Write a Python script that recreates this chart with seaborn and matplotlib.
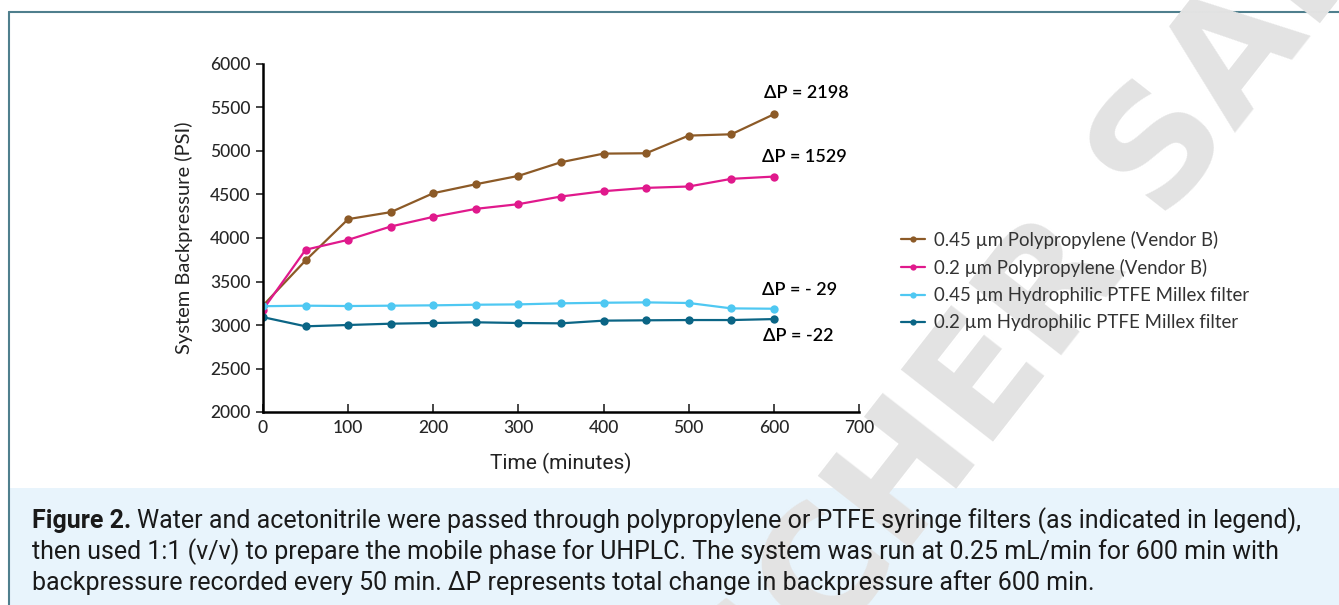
import numpy as np
import pandas as pd
import seaborn as sns
from matplotlib import pyplot as plt
from matplotlib.patches import Rectangle
from matplotlib.lines import Line2D

# data (backpressure in PSI, every 50 min)
times = [0, 50, 100, 150, 200, 250, 300, 350, 400, 450, 500, 550, 600]
pp045 = [3224, 3742, 4217, 4297, 4515, 4618, 4714, 4871, 4970, 4974, 5177, 5192, 5422]
pp02 = [3177, 3865, 3979, 4132, 4243, 4335, 4389, 4477, 4538, 4576, 4592, 4680, 4706]
ptfe045 = [3216, 3222, 3218, 3222, 3226, 3233, 3237, 3249, 3256, 3260, 3253, 3191, 3187]
ptfe02 = [3090, 2985, 3000, 3015, 3023, 3031, 3023, 3019, 3050, 3054, 3057, 3057, 3068]

names = ['0.45 µm Polypropylene (Vendor B)', '0.2 µm Polypropylene (Vendor B)',
         '0.45 µm Hydrophilic PTFE Millex filter', '0.2 µm Hydrophilic PTFE Millex filter']
colors = ['#8c5a27', '#e0198c', '#4fc8f2', '#0b6585']
deltas = ['ΔP = 2198', 'ΔP = 1529', 'ΔP = - 29', 'ΔP = -22']
delta_pos = [(589, 5667), (586, 4931), (586, 3402), (587, 2874)]

caption = ['Water and acetonitrile were passed through polypropylene or PTFE syringe filters (as indicated in legend),',
           'then used 1:1 (v/v) to prepare the mobile phase for UHPLC. The system was run at 0.25 mL/min for 600 min with',
           'backpressure recorded every 50 min. ΔP represents total change in backpressure after 600 min.']

df = pd.concat([pd.DataFrame({'time': times, 'psi': v, 'filter': n})
                for v, n in zip([pp045, pp02, ptfe045, ptfe02], names)])

sns.set_style('white')
plt.rcParams['font.family'] = ['Lato', 'DejaVu Sans']

W, H = 1339, 605
fig = plt.figure(figsize=(W / 100, H / 100), dpi=100)

# frame and caption box
fig.add_artist(Rectangle((10 / W, 0), 1, 117 / H, transform=fig.transFigure,
                         facecolor='#e8f4fc', edgecolor='none', zorder=-3))
fig.add_artist(Line2D([9 / W, 1], [1 - 12 / H, 1 - 12 / H], transform=fig.transFigure,
                      color='#4f7f8d', lw=1.5, zorder=-2))
fig.add_artist(Line2D([9 / W, 9 / W], [0, 1 - 12 / H], transform=fig.transFigure,
                      color='#4f7f8d', lw=1.5, zorder=-2))

# watermark
fig.text(757 / W, -139 / H, 'SCHER SAMPLE', rotation=52, rotation_mode='anchor',
         ha='left', va='baseline', fontsize=116, fontweight='bold',
         family='DejaVu Sans', color='#e3e3e3', zorder=-1)

ax = fig.add_axes([263 / W, 1 - 412 / H, (859 - 263) / W, (412 - 64) / H])
ax.set_facecolor('none')
sns.lineplot(data=df, x='time', y='psi', hue='filter', palette=colors, marker='o',
             markersize=6, markeredgewidth=0, linewidth=1.6, ax=ax, legend=False)

ax.set_xlim(0, 700)
ax.set_ylim(2000, 6000)
ax.set_xticks(range(0, 701, 100))
ax.set_yticks(range(2000, 6001, 500))
for s in ['top', 'right']:
    ax.spines[s].set_visible(False)
for s in ['left', 'bottom']:
    ax.spines[s].set_linewidth(1.8)
    ax.spines[s].set_color('black')
ax.tick_params(axis='y', direction='out', length=5, width=1.2, labelsize=12.5, pad=4, left=True)
ax.tick_params(axis='x', direction='in', length=6, width=1.2, labelsize=12.5, pad=6, bottom=True)
for lab in ax.get_xticklabels() + ax.get_yticklabels():
    lab.set_fontweight('medium')
ax.set_xlabel('Time (minutes)', family='Roboto', fontsize=15, color='#222222', labelpad=12)
ax.set_ylabel('System Backpressure (PSI)', fontsize=14.5, color='#222222', labelpad=12)

for txt, (x, y) in zip(deltas, delta_pos):
    ax.text(x, y, txt, ha='left', va='center', fontsize=13, fontweight='semibold', color='black')

handles = [Line2D([], [], color=c, lw=1.6, marker='o', markersize=4.5, markeredgewidth=0) for c in colors]
ax.legend(handles, names, loc='center left', bbox_to_anchor=(884 / W, 1 - 281 / H),
          bbox_transform=fig.transFigure, frameon=False, fontsize=13.4, handlelength=1.3,
          handletextpad=0.5, labelspacing=0.55, labelcolor='#333333')

# caption with bold lead
renderer = fig.canvas.get_renderer()
cap_kw = dict(family='Roboto', fontsize=18, color='#1a1a1a', va='baseline', ha='left')
lead = fig.text(32 / W, 1 - 528 / H, 'Figure 2.', fontweight='bold', **cap_kw)
lead_w = lead.get_window_extent(renderer).width
fig.text((32 + lead_w + 6) / W, 1 - 528 / H, caption[0], **cap_kw)
fig.text(32 / W, 1 - 559 / H, caption[1], **cap_kw)
fig.text(32 / W, 1 - 590 / H, caption[2], **cap_kw)

fig.savefig('out.png', dpi=100)
